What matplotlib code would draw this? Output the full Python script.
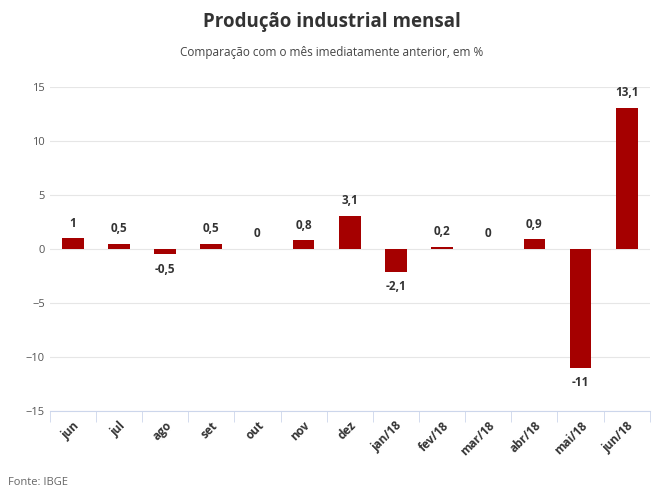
import matplotlib
matplotlib.use("Agg")
import matplotlib.pyplot as plt

categories = ["jun", "jul", "ago", "set", "out", "nov", "dez", "jan/18", "fev/18", "mar/18", "abr/18", "mai/18", "jun/18"]
values = [1, 0.5, -0.5, 0.5, 0, 0.8, 3.1, -2.1, 0.2, 0, 0.9, -11, 13.1]
yticks = [-15, -10, -5, 0, 5, 10, 15]

plt.rcParams['font.family'] = ['Open Sans', 'DejaVu Sans']
fig = plt.figure(figsize=(6.63, 4.95), dpi=100)
ax = fig.add_axes([0.075, 0.17, 0.905, 0.654])
x = range(len(categories))
ax.bar(x, values, width=0.47, color="#a50000", zorder=3)
for i, v in zip(x, values):
    lbl = f"{v:g}".replace(".", ",")
    if v >= 0:
        ax.text(i, v + 0.8, lbl, ha="center", va="bottom", fontsize=8.5, fontweight="bold", color="#333333")
    else:
        ax.text(i, v - 0.8, lbl, ha="center", va="top", fontsize=8.5, fontweight="bold", color="#333333")
ax.set_ylim(-15, 15)
ax.set_xlim(-0.5, len(categories) - 0.5)
ax.set_yticks(yticks)
ax.tick_params(axis="y", length=0, labelsize=8, labelcolor="#555555")
ax.set_xticks(list(x))
ax.set_xticklabels(categories, rotation=45, ha="right", rotation_mode="anchor", fontsize=8.5, fontweight="bold", color="#333333")
ax.set_xticks([i + 0.5 for i in range(-1, len(categories))], minor=True)
ax.tick_params(axis="x", which="major", length=0, pad=6)
ax.tick_params(axis="x", which="minor", length=8, color="#ccd6eb")
ax.grid(axis="y", color="#e6e6e6", linewidth=0.8, zorder=0)
for s in ["top", "right", "left"]:
    ax.spines[s].set_visible(False)
ax.spines["bottom"].set_color("#ccd6eb")
fig.text(0.5, 0.955, "Produção industrial mensal", ha="center", va="center", fontsize=13.5, fontweight="bold", color="#333333")
fig.text(0.5, 0.893, "Comparação com o mês imediatamente anterior, em %", ha="center", va="center", fontsize=8.5, color="#444444")
fig.text(0.012, 0.025, "Fonte: IBGE", ha="left", va="center", fontsize=8, color="#666666")
fig.savefig("out.png", dpi=100)
